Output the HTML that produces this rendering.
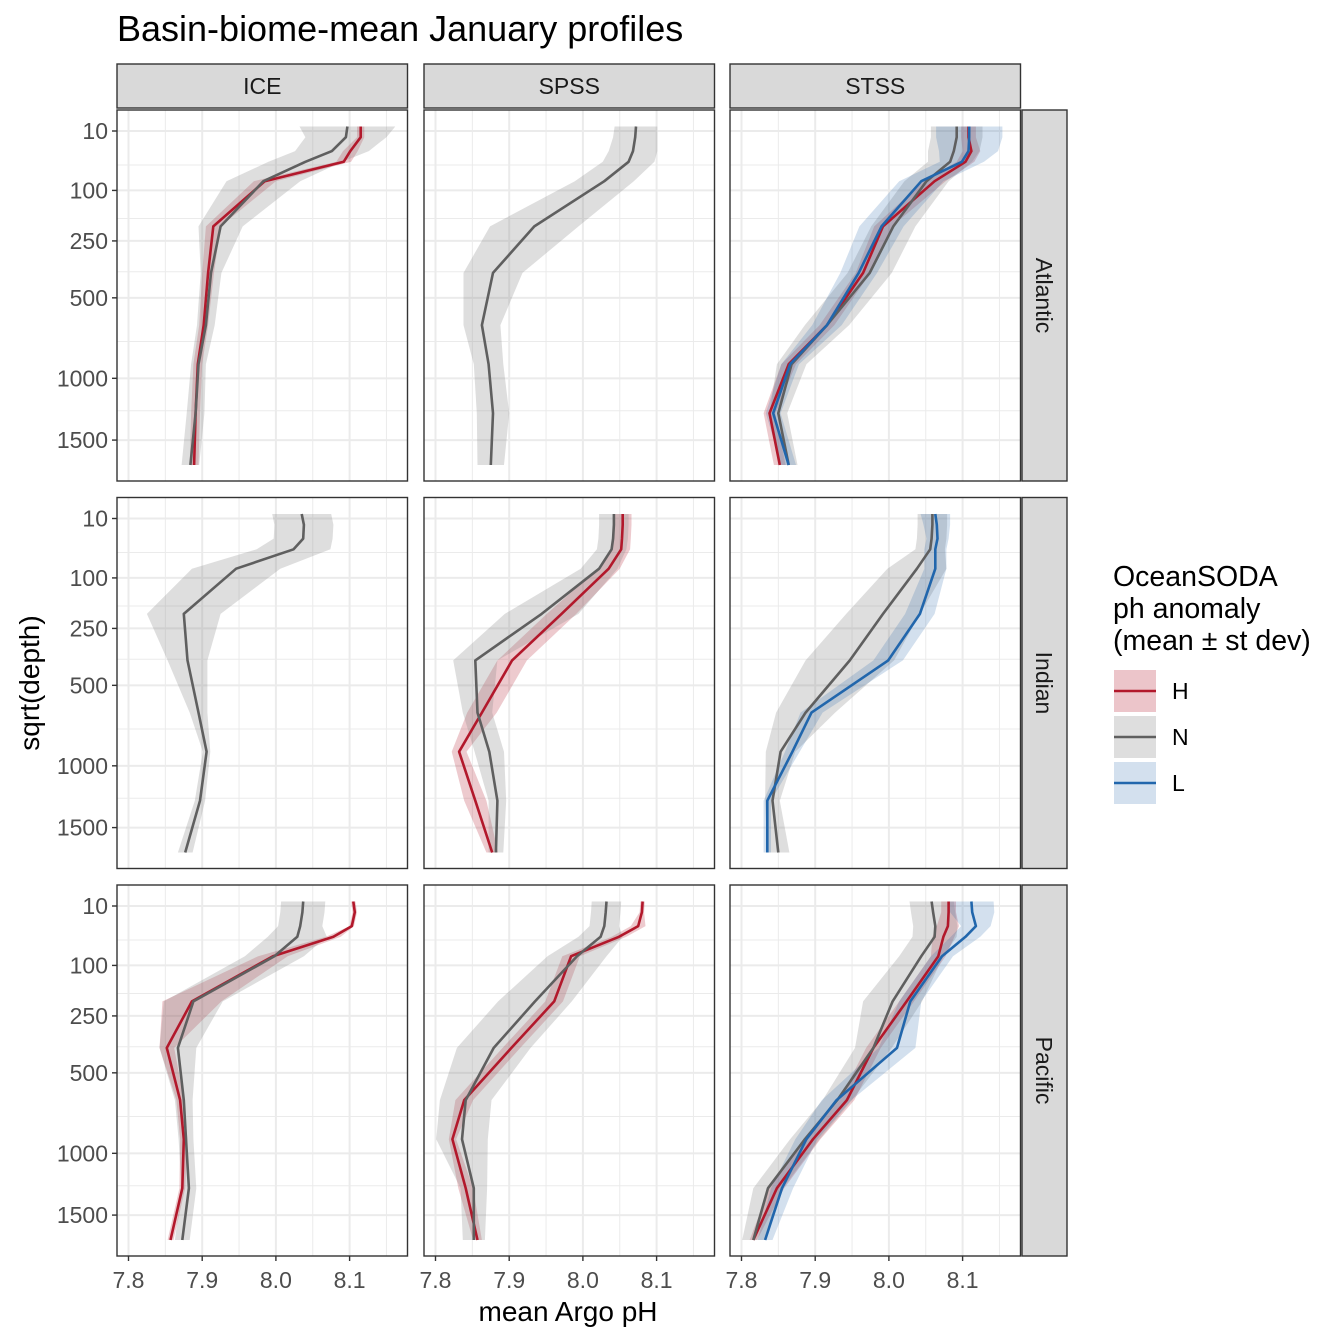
<!DOCTYPE html>
<html><head><meta charset="utf-8">
<style>
body{margin:0;background:#fff;}
svg{display:block;font-family:"Liberation Sans",Arial,sans-serif;}
</style></head>
<body>
<svg id="chart" width="1344" height="1344" viewBox="0 0 1344 1344" xmlns="http://www.w3.org/2000/svg">
<rect width="1344" height="1344" fill="#fff"/>
<text x="117" y="41" font-size="36" fill="#000">Basin-biome-mean January profiles</text>
<g id="panels"></g>
<text x="568" y="1321" font-size="28" text-anchor="middle" fill="#000">mean Argo pH</text>
<text x="0" y="0" font-size="28" text-anchor="middle" fill="#000" transform="translate(39,683) rotate(-90)">sqrt(depth)</text>
<g>
<text x="1113" y="586" font-size="28.5" fill="#000">OceanSODA</text>
<text x="1113" y="618" font-size="28.5" fill="#000">ph anomaly</text>
<text x="1113" y="650" font-size="28.5" fill="#000">(mean ± st dev)</text>
<g>
<rect x="1114" y="670" width="42" height="42" fill="#ECC5CA"/>
<line x1="1114" y1="691" x2="1156" y2="691" stroke="#B2182B" stroke-width="2.6"/>
<text x="1172" y="699" font-size="23" fill="#000">H</text></g>
<g>
<rect x="1114" y="716" width="42" height="42" fill="#DEDEDE"/>
<line x1="1114" y1="737" x2="1156" y2="737" stroke="#5F5F5F" stroke-width="2.6"/>
<text x="1172" y="745" font-size="23" fill="#000">N</text></g>
<g>
<rect x="1114" y="762" width="42" height="42" fill="#D3E0EE"/>
<line x1="1114" y1="783" x2="1156" y2="783" stroke="#2166AC" stroke-width="2.6"/>
<text x="1172" y="791" font-size="23" fill="#000">L</text></g>
</g>
</svg>
<script>
const depths=[7,15,30,45,80,200,380,650,900,1270,1730];
const xTicks=[7.8,7.9,8.0,8.1];
const xMinor=[7.85,7.95,8.05,8.15];
const yTicks=[10,100,250,500,1000,1500];
const yMinor=[50,175,375,750,1250];
const basins=['Atlantic','Indian','Pacific'];
const biomes=['ICE','SPSS','STSS'];

// Atlantic
const atlIceH=[8.115,8.115,8.101,8.092,7.985,7.915,7.908,7.902,7.894,7.891,7.889];
const atlIceHsd=[0.005,0.005,0.01,0.01,0.015,0.01,0.008,0.006,0.006,0.006,0.006];
const atlIceN=[8.097,8.095,8.076,8.040,7.983,7.925,7.912,7.905,7.895,7.891,7.884];
const atlIceNsd=[0.065,0.055,0.05,0.05,0.05,0.03,0.014,0.012,0.01,0.012,0.012];
const atlSpssN=[8.072,8.071,8.068,8.062,8.029,7.934,7.878,7.863,7.872,7.878,7.875];
const atlSpssNsd=[0.029,0.03,0.033,0.035,0.04,0.06,0.04,0.025,0.02,0.022,0.018];
const atlStssH=[8.108,8.108,8.112,8.104,8.062,7.992,7.965,7.916,7.864,7.838,7.852];
const atlStssHsd=[0.01,0.01,0.012,0.012,0.015,0.012,0.01,0.01,0.01,0.008,0.008];
const atlStssN=[8.092,8.092,8.088,8.083,8.051,8.006,7.974,7.916,7.868,7.850,7.864];
const atlStssNsd=[0.035,0.035,0.035,0.03,0.03,0.03,0.03,0.03,0.02,0.012,0.012];
const atlStssL=[8.109,8.109,8.108,8.099,8.044,7.990,7.959,7.916,7.866,7.843,7.864];
const atlStssLsd=[0.045,0.045,0.04,0.03,0.03,0.03,0.025,0.02,0.012,0.01,0.01];
// Indian
const indIceN=[8.035,8.038,8.037,8.024,7.946,7.875,7.880,7.895,7.906,7.897,7.877];
const indIceNsd=[0.04,0.04,0.04,0.05,0.06,0.05,0.027,0.012,0.005,0.007,0.01];
const indSpssH=[8.054,8.054,8.053,8.052,8.035,7.971,7.904,7.863,7.832,7.854,7.877];
const indSpssHsd=[0.012,0.012,0.012,0.012,0.015,0.02,0.02,0.02,0.01,0.015,0.008];
const indSpssN=[8.042,8.042,8.041,8.039,8.022,7.944,7.854,7.857,7.873,7.884,7.882];
const indSpssNsd=[0.02,0.02,0.02,0.02,0.025,0.05,0.03,0.02,0.02,0.012,0.01];
const indStssN=[8.059,8.059,8.058,8.056,8.038,7.992,7.947,7.887,7.853,7.842,7.850];
const indStssNsd=[0.02,0.02,0.02,0.02,0.04,0.05,0.06,0.04,0.02,0.01,0.015];
const indStssL=[8.063,8.065,8.066,8.063,8.063,8.042,7.999,7.895,7.869,7.835,7.835];
const indStssLsd=[0.02,0.018,0.015,0.015,0.015,0.02,0.02,0.015,0.01,0.005,0.005];
// Pacific
const pacIceH=[8.105,8.107,8.103,8.078,7.996,7.886,7.852,7.870,7.875,7.873,7.857];
const pacIceHsd=[0.003,0.003,0.003,0.01,0.02,0.04,0.01,0.005,0.005,0.004,0.004];
const pacIceN=[8.037,8.036,8.033,8.029,7.998,7.888,7.867,7.875,7.878,7.882,7.873];
const pacIceNsd=[0.03,0.03,0.03,0.04,0.04,0.04,0.025,0.012,0.01,0.01,0.01];
const pacSpssH=[8.081,8.080,8.075,8.049,7.984,7.961,7.903,7.839,7.823,7.841,7.857];
const pacSpssHsd=[0.003,0.003,0.01,0.01,0.012,0.012,0.012,0.012,0.005,0.01,0.006];
const pacSpssN=[8.032,8.031,8.029,8.024,7.992,7.935,7.879,7.841,7.836,7.852,7.852];
const pacSpssNsd=[0.02,0.02,0.02,0.03,0.04,0.05,0.05,0.035,0.035,0.018,0.015];
const pacStssH=[8.081,8.081,8.080,8.074,8.067,8.024,7.979,7.943,7.897,7.848,7.816];
const pacStssHsd=[0.01,0.01,0.015,0.015,0.01,0.01,0.01,0.01,0.01,0.01,0.005];
const pacStssN=[8.058,8.060,8.063,8.062,8.044,8.005,7.979,7.930,7.886,7.836,7.816];
const pacStssNsd=[0.03,0.03,0.03,0.03,0.03,0.04,0.025,0.02,0.02,0.02,0.015];
const pacStssL=[8.112,8.113,8.118,8.104,8.072,8.029,8.011,7.929,7.888,7.855,7.832];
const pacStssLsd=[0.03,0.03,0.02,0.02,0.015,0.015,0.025,0.02,0.015,0.015,0.01];

const series=[
 [0,0,'H',atlIceH,atlIceHsd],[0,0,'N',atlIceN,atlIceNsd],
 [0,1,'N',atlSpssN,atlSpssNsd],
 [0,2,'H',atlStssH,atlStssHsd],[0,2,'N',atlStssN,atlStssNsd],[0,2,'L',atlStssL,atlStssLsd],
 [1,0,'N',indIceN,indIceNsd],
 [1,1,'H',indSpssH,indSpssHsd],[1,1,'N',indSpssN,indSpssNsd],
 [1,2,'N',indStssN,indStssNsd],[1,2,'L',indStssL,indStssLsd],
 [2,0,'H',pacIceH,pacIceHsd],[2,0,'N',pacIceN,pacIceNsd],
 [2,1,'H',pacSpssH,pacSpssHsd],[2,1,'N',pacSpssN,pacSpssNsd],
 [2,2,'H',pacStssH,pacStssHsd],[2,2,'N',pacStssN,pacStssNsd],[2,2,'L',pacStssL,pacStssLsd]
];

const NS='http://www.w3.org/2000/svg';
const colX=[117,424,730], rowY=[110,497.5,885], PW=290.5, PH=371;
const lineCol={H:'#B2182B',N:'#5F5F5F',L:'#2166AC'};
const fillCol={H:'#B2182B',N:'#8A8A8A',L:'#2166AC'};
const fillOp={H:0.23,N:0.28,L:0.2};
function xS(v,c){return colX[c]+(v-7.7844)*737;}
function yS(d,r){return rowY[r]+21+(Math.sqrt(d)-3.162)*8.69;}
function mk(tag,attrs,parent){const e=document.createElementNS(NS,tag);for(const k in attrs)e.setAttribute(k,attrs[k]);parent.appendChild(e);return e;}
const root=document.getElementById('panels');

for(let r=0;r<3;r++){for(let c=0;c<3;c++){
  const g=mk('g',{},root);
  
  
  const bg=mk('rect',{x:colX[c],y:rowY[r],width:PW,height:PH,fill:'#fff'},g);
  
  
  const clipId='clip'+r+c;
  const cp=mk('clipPath',{id:clipId},g);mk('rect',{x:colX[c],y:rowY[r],width:PW,height:PH},cp);
  const inner=mk('g',{'clip-path':'url(#'+clipId+')'},g);
  yMinor.forEach(d=>{const l=mk('line',{x1:colX[c],x2:colX[c]+PW,y1:yS(d,r),y2:yS(d,r),stroke:'#EBEBEB','stroke-width':1},inner);
    
    });
  xMinor.forEach(v=>{const l=mk('line',{x1:xS(v,c),x2:xS(v,c),y1:rowY[r],y2:rowY[r]+PH,stroke:'#EBEBEB','stroke-width':1},inner);
    
    });
  yTicks.forEach(d=>{const l=mk('line',{x1:colX[c],x2:colX[c]+PW,y1:yS(d,r),y2:yS(d,r),stroke:'#EBEBEB','stroke-width':2},inner);
    
    });
  xTicks.forEach(v=>{const l=mk('line',{x1:xS(v,c),x2:xS(v,c),y1:rowY[r],y2:rowY[r]+PH,stroke:'#EBEBEB','stroke-width':2},inner);
    
    });
  const ps=series.filter(s=>s[0]===r&&s[1]===c);
  const order=['H','N','L'];
  order.forEach(grp=>{ps.filter(s=>s[2]===grp).forEach(s=>{
    const m=s[3],sd=s[4];let pts=[];
    for(let i=0;i<depths.length;i++)pts.push(xS(m[i]+sd[i],c).toFixed(1)+','+yS(depths[i],r).toFixed(1));
    for(let i=depths.length-1;i>=0;i--)pts.push(xS(m[i]-sd[i],c).toFixed(1)+','+yS(depths[i],r).toFixed(1));
    const p=mk('polygon',{points:pts.join(' '),fill:fillCol[grp],'fill-opacity':fillOp[grp]},inner);
    
    
  });});
  order.forEach(grp=>{ps.filter(s=>s[2]===grp).forEach(s=>{
    const m=s[3];const pts=depths.map((d,i)=>xS(m[i],c).toFixed(1)+','+yS(d,r).toFixed(1));
    const p=mk('polyline',{points:pts.join(' '),fill:'none',stroke:lineCol[grp],'stroke-width':2.6,'stroke-linejoin':'round'},inner);
    
    
  });});
  const bd=mk('rect',{x:colX[c],y:rowY[r],width:PW,height:PH,fill:'none',stroke:'#333','stroke-width':1.4},g);
  
  
  if(c===0){yTicks.forEach(d=>{
    const t=mk('line',{x1:colX[0]-5,x2:colX[0],y1:yS(d,r),y2:yS(d,r),stroke:'#333','stroke-width':1.4},g);
    
    
    const tx=mk('text',{x:colX[0]-9,y:yS(d,r)+8,'font-size':23,'text-anchor':'end',fill:'#4D4D4D'},g);
    tx.textContent=String(d);
    
    
  });}
  if(r===2){xTicks.forEach(v=>{
    const t=mk('line',{x1:xS(v,c),x2:xS(v,c),y1:rowY[2]+PH,y2:rowY[2]+PH+5,stroke:'#333','stroke-width':1.4},g);
    
    
    const tx=mk('text',{x:xS(v,c),y:rowY[2]+PH+32,'font-size':23,'text-anchor':'middle',fill:'#4D4D4D'},g);
    tx.textContent=v.toFixed(1);
    
    
  });}
}}
biomes.forEach((b,c)=>{
  const s=mk('rect',{x:colX[c],y:64,width:PW,height:44,fill:'#D9D9D9',stroke:'#333','stroke-width':1.4},root);
  
  
  const t=mk('text',{x:colX[c]+PW/2,y:94,'font-size':23,'text-anchor':'middle',fill:'#1A1A1A'},root);
  t.textContent=b;
  
  
});
basins.forEach((b,r)=>{
  const s=mk('rect',{x:1022,y:rowY[r],width:45,height:PH,fill:'#D9D9D9',stroke:'#333','stroke-width':1.4},root);
  
  
  const cy=rowY[r]+PH/2;
  const t=mk('text',{x:0,y:0,'font-size':23,'text-anchor':'middle',fill:'#1A1A1A',transform:'translate(1036,'+cy+') rotate(90)'},root);
  t.textContent=b;
  
  
});
</script>
</body></html>
